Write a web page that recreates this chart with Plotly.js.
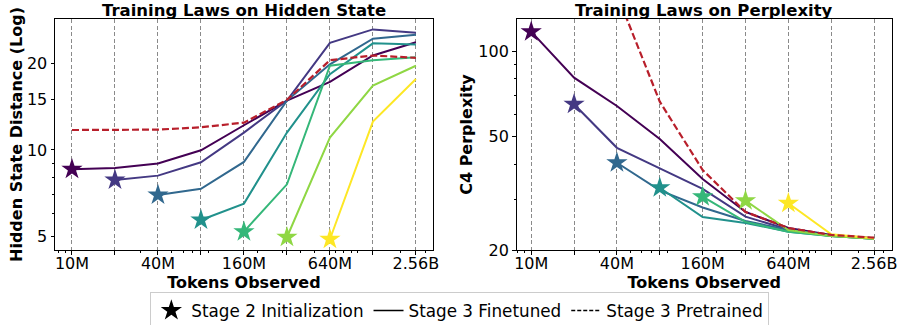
<!DOCTYPE html>
<html>
<head>
<meta charset="utf-8">
<script src="https://cdn.plot.ly/plotly-3.0.1.min.js"></script>
<style>html,body{margin:0;padding:0;background:#fff;}#chart{width:901px;height:325px;}</style>
</head>
<body>
<div id="chart"></div>
<script>
// ---- data ----
const tokens = [1e7, 2e7, 4e7, 8e7, 1.6e8, 3.2e8, 6.4e8, 1.28e9, 2.56e9];
const tickLabels = ['10M', '', '40M', '', '160M', '', '640M', '', '2.56B'];
const seriesStart = [0, 1, 2, 3, 4, 5, 6];
const seriesColors = ['#440154', '#443983', '#31688e', '#21918c', '#35b779', '#8fd744', '#fde725'];

const hidden0 = [8.56, 8.65, 8.96, 9.97, 12.2, 14.88, 17.3, 21.4, 23.8];
const hidden1 = [7.85, 8.13, 9.05, 11.5, 14.88, 23.7, 26.4, 25.7];
const hidden2 = [6.96, 7.31, 9.08, 14.88, 19.93, 24.5, 25.3];
const hidden3 = [5.69, 6.49, 11.5, 18.4, 23.6, 23.4];
const hidden4 = [5.18, 7.58, 19.7, 20.6, 21.1];
const hidden5 = [4.95, 11.04, 16.8, 19.7];
const hidden6 = [4.87, 12.56, 17.7];
const hiddenPretrained = [11.74, 11.74, 11.78, 12.0, 12.46, 14.96, 20.6, 21.4, 21.0];

const ppl0 = [116.9, 80.6, 64.1, 49.1, 35.5, 27.2, 23.9, 22.6, 22.0];
const ppl1 = [65.0, 45.7, 38.7, 32.8, 26.2, 23.6, 22.5, 22.0];
const ppl2 = [40.5, 32.4, 28.2, 25.3, 23.5, 22.4, 21.9];
const ppl3 = [33.1, 26.1, 24.9, 23.2, 22.4, 21.9];
const ppl4 = [30.8, 25.1, 23.2, 22.4, 21.9];
const ppl5 = [29.8, 23.5, 22.4, 21.9];
const ppl6 = [29.2, 22.7, 22.0];
const pplPretrained = [380, 250, 158.5, 66.4, 38.2, 27.2, 23.9, 22.6, 22.1];

const hiddenTicks = [5, 10, 15, 20];
const hiddenMinor = [6, 7, 8, 9];
const pplTicks = [20, 50, 100];
const pplMinor = [30, 40, 60, 70, 80, 90];
const tokenMinor = [8e6, 9e6, 3e7, 5e7, 6e7, 7e7, 9e7, 2e8, 3e8, 4e8, 5e8, 7e8, 8e8, 9e8, 1e9, 2e9, 3e9];

const hiddenSeries = [hidden0, hidden1, hidden2, hidden3, hidden4, hidden5, hidden6];
const pplSeries = [ppl0, ppl1, ppl2, ppl3, ppl4, ppl5, ppl6];

const legendNames = ['Stage 2 Initialization', 'Stage 3 Finetuned', 'Stage 3 Pretrained'];
const panelTitles = ['Training Laws on Hidden State', 'Training Laws on Perplexity'];
const axisTitles = {x: 'Tokens Observed', y1: 'Hidden State Distance (Log)', y2: 'C4 Perplexity'};

// ---- traces ----
const traces = [];
const redDash = '#b81f2b';
function addPanel(seriesList, pretrained, xa, ya) {
  seriesList.forEach((vals, i) => {
    const xs = tokens.slice(seriesStart[i], seriesStart[i] + vals.length);
    traces.push({x: xs, y: vals, xaxis: xa, yaxis: ya, mode: 'lines', showlegend: false,
      line: {color: seriesColors[i], width: 2}, hoverinfo: 'skip'});
  });
  traces.push({x: tokens, y: pretrained, xaxis: xa, yaxis: ya, mode: 'lines', showlegend: false,
    line: {color: redDash, width: 2.2, dash: '7px,3px'}, hoverinfo: 'skip'});
  seriesList.forEach((vals, i) => {
    traces.push({x: [tokens[seriesStart[i]]], y: [vals[0]], xaxis: xa, yaxis: ya, mode: 'markers',
      showlegend: false, marker: {symbol: 'star', size: 16, color: seriesColors[i], line: {width: 0}}, hoverinfo: 'skip'});
  });
}
addPanel(hiddenSeries, hiddenPretrained, 'x', 'y');
addPanel(pplSeries, pplPretrained, 'x2', 'y2');

// legend-only traces
traces.push({x: [null], y: [null], mode: 'markers', name: legendNames[0], marker: {symbol: 'star', size: 16, color: 'black'}});
traces.push({x: [null], y: [null], mode: 'lines', name: legendNames[1], line: {color: 'black', width: 1.5}});
traces.push({x: [null], y: [null], mode: 'lines', name: legendNames[2], line: {color: 'black', width: 1.5, dash: '4px,2px'}});

// ---- layout ----
const W = 901, H = 325;
const mL = 55, mR = 8.7, mT = 19, mB = 75;
const pw = W - mL - mR, ph = H - mT - mB;
const px2x = p => (p - mL) / pw;
const py2y = p => (H - mB - p) / ph;

const fontFam = 'DejaVu Sans, Liberation Sans, sans-serif';
function xAxisDef(domain, range) {
  return {type: 'log', domain: domain, range: range, tickmode: 'array', tickvals: tokens, ticktext: tickLabels,
    ticks: 'outside', ticklen: 3.5, tickwidth: 1, tickcolor: 'black', showline: true, mirror: true, linecolor: 'black', linewidth: 1,
    showgrid: true, gridcolor: '#8a8a8a', gridwidth: 1, griddash: '4px,2.5px', zeroline: false, automargin: false,
    tickfont: {size: 16, color: 'black'}, ticklabelstandoff: -5,
    minor: {tickmode: 'array', tickvals: tokenMinor, ticks: 'outside', ticklen: 2, tickcolor: 'black', showgrid: false},
    title: {text: '<b>' + axisTitles.x + '</b>', font: {size: 16, color: 'black'}, standoff: 2}};
}
function yAxisDef(domain, range, ticks, minorTicks, title, anchor, standoff) {
  return {type: 'log', domain: domain, range: range, anchor: anchor, tickmode: 'array', tickvals: ticks, ticktext: ticks.map(String),
    ticks: 'outside', ticklen: 3.5, tickwidth: 1, tickcolor: 'black', showline: true, mirror: true, linecolor: 'black', linewidth: 1,
    showgrid: false, zeroline: false, automargin: false, tickfont: {size: 16, color: 'black'},
    minor: {tickmode: 'array', tickvals: minorTicks, ticks: 'outside', ticklen: 2, tickcolor: 'black', showgrid: false},
    title: {text: '<b>' + title + '</b>', font: {size: 16, color: 'black'}, standoff: standoff}};
}

const layout = {
  width: W, height: H,
  margin: {l: mL, r: mR, t: mT, b: mB, pad: 0, autoexpand: false},
  paper_bgcolor: 'white', plot_bgcolor: 'white',
  font: {family: fontFam, size: 16, color: 'black'},
  xaxis: Object.assign(xAxisDef([0, px2x(433)], [6.881, 9.527]), {anchor: 'y'}),
  yaxis: yAxisDef([0, 1], [0.650, 1.458], hiddenTicks, hiddenMinor, axisTitles.y1, 'x', 0),
  xaxis2: Object.assign(xAxisDef([px2x(516.7), 1], [6.897, 9.534]), {anchor: 'y2'}),
  yaxis2: yAxisDef([0, 1], [Math.log10(20), 2.1124], pplTicks, pplMinor, axisTitles.y2, 'x2', 1),
  showlegend: true,
  legend: {orientation: 'h', x: px2x(460), xanchor: 'center', y: py2y(310.5), yanchor: 'middle',
    bordercolor: '#cccccc', borderwidth: 1, bgcolor: 'white', font: {size: 16.8, color: 'black'},
    itemwidth: 30, tracegroupgap: 0},
  annotations: [
    {text: '<b>' + panelTitles[0] + '</b>', xref: 'paper', yref: 'paper', x: px2x(244), y: py2y(10),
      xanchor: 'center', yanchor: 'middle', showarrow: false, font: {size: 16.5, color: 'black'}},
    {text: '<b>' + panelTitles[1] + '</b>', xref: 'paper', yref: 'paper', x: px2x(704.5), y: py2y(10),
      xanchor: 'center', yanchor: 'middle', showarrow: false, font: {size: 16.5, color: 'black'}}
  ]
};

Plotly.newPlot('chart', traces, layout, {staticPlot: true, displayModeBar: false});
</script>
</body>
</html>
